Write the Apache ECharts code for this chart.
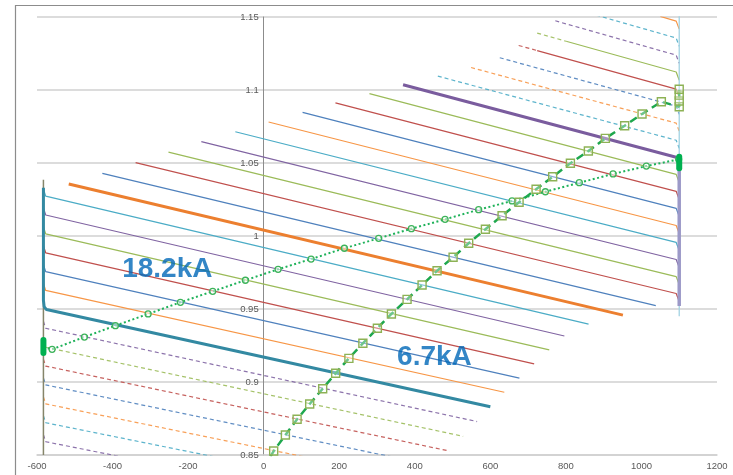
<!DOCTYPE html>
<html>
<head>
<meta charset="utf-8">
<title>Tap lines</title>
<script src="https://cdn.jsdelivr.net/npm/echarts@6/dist/echarts.min.js"></script>
<style>
	html, body { margin: 0; padding: 0; background: #fff; }
	#main { width: 733px; height: 475px; }
</style>
</head>
<body>
<div id="main"></div>
<script>
	// tap positions, lowest to highest, and the V-Q curve of each one as [Q, V]
	const tapSteps = [-14, -13, -12, -11, -10, -9, -8, -7, -6, -5, -4, -3, -2, -1, 0, 1, 2, 3, 4, 5, 6, 7, 8, 9, 10, 11, 12, 13, 14, 15, 16, 17, 18]
	const tapCurves = [
		[[-583, 0.8639], [-577, 0.8591], [344, 0.8116]],
		[[-583, 0.8769], [-577, 0.8721], [381, 0.8220]],
		[[-583, 0.8898], [-577, 0.8850], [418, 0.8323]],
		[[-583, 0.9028], [-577, 0.8980], [455, 0.8425]],
		[[-583, 0.9157], [-577, 0.9109], [492, 0.8527]],
		[[-583, 0.9287], [-577, 0.9238], [528, 0.8628]],
		[[-583, 0.9416], [-577, 0.9368], [565, 0.8729]],
		[[-583, 1.0330], [-583, 0.9560], [-581, 0.9515], [-575, 0.9496], [600, 0.8830]],
		[[-583, 0.9675], [-577, 0.9627], [637, 0.8930]],
		[[-583, 0.9804], [-577, 0.9756], [677, 0.9027]],
		[[-583, 0.9934], [-577, 0.9885], [716, 0.9124]],
		[[-583, 1.0063], [-577, 1.0015], [756, 0.9220]],
		[[-583, 1.0193], [-577, 1.0144], [796, 0.9315]],
		[[-583, 1.0322], [-577, 1.0273], [860, 0.9396]],
		[[-516, 1.0356], [951, 0.9458]],
		[[-427, 1.0429], [1038, 0.9523]],
		[[-339, 1.0502], [1092, 0.9606], [1100, 0.9551]],
		[[-252, 1.0575], [1092, 0.9722], [1100, 0.9667]],
		[[-165, 1.0646], [1092, 0.9839], [1100, 0.9784]],
		[[-75, 1.0714], [1092, 0.9956], [1100, 0.9901]],
		[[13, 1.0781], [1092, 1.0072], [1100, 1.0017]],
		[[103, 1.0847], [1092, 1.0189], [1100, 1.0134]],
		[[190, 1.0912], [1092, 1.0306], [1100, 1.0250]],
		[[280, 1.0975], [1092, 1.0422], [1100, 1.0367]],
		[[369, 1.1036], [1092, 1.0539], [1100, 1.0490]],
		[[461, 1.1095], [1092, 1.0656], [1100, 1.0600]],
		[[549, 1.1154], [1092, 1.0773], [1100, 1.0717]],
		[[625, 1.1221], [1092, 1.0889], [1100, 1.0834]],
		[[724, 1.1270], [1092, 1.1006], [1100, 1.0950]],
		[[803, 1.1332], [1092, 1.1123], [1100, 1.1067]],
		[[772, 1.1474], [1092, 1.1239], [1100, 1.1183]],
		[[880, 1.1513], [1092, 1.1356], [1100, 1.1300]],
		[[1050, 1.1504], [1092, 1.1472], [1100, 1.1417]]
	]
	// dashed first part of taps 14 and 15
	const stubSteps = [14, 15]
	const stubCurves = [
		[[675, 1.1305], [724, 1.1270]],
		[[724, 1.1390], [803, 1.1332]]
	]
	// Q limits
	const leftLimit = [[-583, 1.0385], [-583, 0.85]]
	const rightLimit = [[1100, 1.152], [1100, 0.945]]
	const rightLimitTap10 = [[1100, 1.049], [1100, 0.952]]

	// 18.2kA line, points where it crosses the taps
	const line182 = [[-583, 0.9238], [-560, 0.9224], [-474.5, 0.9308], [-392.5, 0.9386], [-305.9, 0.9466], [-220.4, 0.9546],
		[-134.9, 0.9621], [-48.4, 0.9697], [38.2, 0.9772], [125.5, 0.9842], [213.6, 0.9916], [304.4, 0.9984],
		[391, 1.0050], [480.2, 1.0114], [569.1, 1.0180], [657.5, 1.0240], [745.7, 1.0303], [835.6, 1.0365],
		[924.9, 1.0425], [1013, 1.0479], [1098.5, 1.0525]]
	// 6.7kA line
	const line67 = [[18, 0.849], [26.5, 0.8527], [57.5, 0.8637], [88.5, 0.8745], [121.8, 0.8849], [156.2, 0.8954], [190.6, 0.9060],
		[225.6, 0.9162], [262.6, 0.9265], [301, 0.9368], [338.1, 0.9466], [379.6, 0.9566], [419.3, 0.9664],
		[459, 0.9762], [501.4, 0.9854], [542.7, 0.9950], [586.9, 1.0046], [631.1, 1.0139], [676.1, 1.0231],
		[721.1, 1.0320], [765, 1.0406], [811.9, 1.0498], [859.5, 1.0582], [904.5, 1.0669], [955.6, 1.0755],
		[1001.6, 1.0836], [1052.7, 1.0920], [1100, 1.0885], [1100, 1.0925], [1100, 1.0965], [1100, 1.1005]]
	const mark182Left = [[-583, 0.9199], [-583, 0.9288]]
	const mark182Right = [[1100, 1.0464], [1100, 1.0543]]

	const kaLabels = ['18.2kA', '6.7kA']
	const kaLabelQ = [-255, 452]
	const kaLabelV = [0.9774, 0.9168]

	// colours cycle with the tap step, 0 = orange
	const palette = ['#F79646', '#4F81BD', '#C0504D', '#9BBB59', '#8064A2', '#4BACC6']
	const thickSteps = [-7, 0, 10]
	const thickColors = ['#3389A2', '#EC7F2F', '#7A5C9E']
	const dashedSteps = [-14, -13, -12, -11, -10, -9, -8, 11, 12, 13, 16, 17]

	const tapColor = (step) => {
		const t = thickSteps.indexOf(step)
		if (t >= 0) return thickColors[t]
		return palette[((step % 6) + 6) % 6]
	}

	const series = []
	tapSteps.forEach((step, i) => {
		const thick = thickSteps.includes(step)
		series.push({
			type: 'line',
			data: tapCurves[i],
			symbol: 'none',
			silent: true,
			z: thick ? 3 : 2,
			lineStyle: {
				color: tapColor(step),
				width: thick ? 3 : 1.2,
				type: dashedSteps.includes(step) ? [4, 3] : 'solid',
				opacity: dashedSteps.includes(step) ? 0.9 : 1
			}
		})
	})
	stubSteps.forEach((step, i) => {
		series.push({
			type: 'line', data: stubCurves[i], symbol: 'none', silent: true, z: 2,
			lineStyle: { color: tapColor(step), width: 1.2, type: [4, 3], opacity: 0.9 }
		})
	})
	series.push({
		type: 'line', data: leftLimit, symbol: 'none', silent: true, z: 2,
		lineStyle: { color: '#85856a', width: 1.5 }
	})
	series.push({
		type: 'line', data: rightLimit, symbol: 'none', silent: true, z: 2,
		lineStyle: { color: '#a3d3e3', width: 1.3 }
	})
	series.push({
		type: 'line', data: rightLimitTap10, symbol: 'none', silent: true, z: 3,
		lineStyle: { color: '#9c99c8', width: 3.5 }
	})
	//18.2kA
	series.push({
		name: '18.2kA', type: 'line', z: 5, silent: true,
		data: line182.map((p, i) => i === 0 ? { value: p, symbol: 'none' } : p),
		symbol: 'circle', symbolSize: 6, showSymbol: true,
		itemStyle: { color: 'rgba(255,255,255,0.5)', borderColor: '#3DB35A', borderWidth: 1.3 },
		lineStyle: { color: '#1FB25A', width: 2, type: [2, 2.5] }
	})
	//6.7kA
	series.push({
		name: '6.7kA', type: 'line', z: 5, silent: true,
		data: line67.map((p, i) => i === 0 ? { value: p, symbol: 'none' } : p),
		symbol: 'rect', symbolSize: 8, showSymbol: true,
		itemStyle: { color: 'rgba(255,255,255,0.35)', borderColor: '#8DB255', borderWidth: 1.4 },
		lineStyle: { color: '#1FA84E', width: 2.5, type: [8, 5] }
	})
	;[mark182Left, mark182Right].forEach(d => {
		series.push({
			type: 'line', data: d, symbol: 'none', silent: true, z: 6,
			lineStyle: { color: '#00B050', width: 6, cap: 'round' }
		})
	})
	series.push({
		type: 'scatter', symbolSize: 0, silent: true, z: 10,
		itemStyle: { color: '#0068B8' },
		data: kaLabels.map((t, i) => ({ name: t, value: [kaLabelQ[i], kaLabelV[i]] })),
		label: {
			show: true, position: 'inside', formatter: '{b}',
			fontSize: 28, fontWeight: 'bold', color: '#0068B8', fontFamily: 'Liberation Sans',
			textBorderWidth: 0, textBorderColor: 'transparent'
		}
	})

	const gridLeft = 37
	const chart = echarts.init(document.getElementById('main'), null, { renderer: 'canvas' })
	chart.setOption({
		animation: false,
		backgroundColor: '#fff',
		textStyle: { fontFamily: 'Liberation Sans' },
		grid: { left: gridLeft, right: 16, top: 17, bottom: 20, containLabel: false },
		graphic: [{
			type: 'rect', silent: true,
			shape: { x: 15.5, y: 5.5, width: 800, height: 600 },
			style: { fill: null, stroke: '#8c8c8c', lineWidth: 1.2 }
		}],
		xAxis: {
			type: 'value', min: -600, max: 1200, interval: 200,
			axisLine: { show: true, onZero: false, lineStyle: { color: '#d0d0d0', width: 1.5 } },
			axisTick: { show: false },
			splitLine: { show: false },
			axisLabel: { color: '#595959', fontSize: 9.5, margin: 6, formatter: v => String(v) }
		},
		yAxis: {
			type: 'value', min: 0.85, max: 1.15, interval: 0.05,
			axisLine: { show: true, onZero: false, lineStyle: { color: '#8c8c8c', width: 1 } },
			axisTick: { show: false },
			splitLine: { show: true, lineStyle: { color: '#d0d0d0', width: 1.5 } },
			axisLabel: { color: '#595959', fontSize: 9.5, margin: 5 }
		},
		series: series
	})
	// the value axis crosses at Q = 0, labels included
	const zeroX = chart.convertToPixel({ xAxisIndex: 0 }, 0)
	chart.setOption({ yAxis: { offset: -(zeroX - gridLeft) } })
</script>
</body>
</html>
